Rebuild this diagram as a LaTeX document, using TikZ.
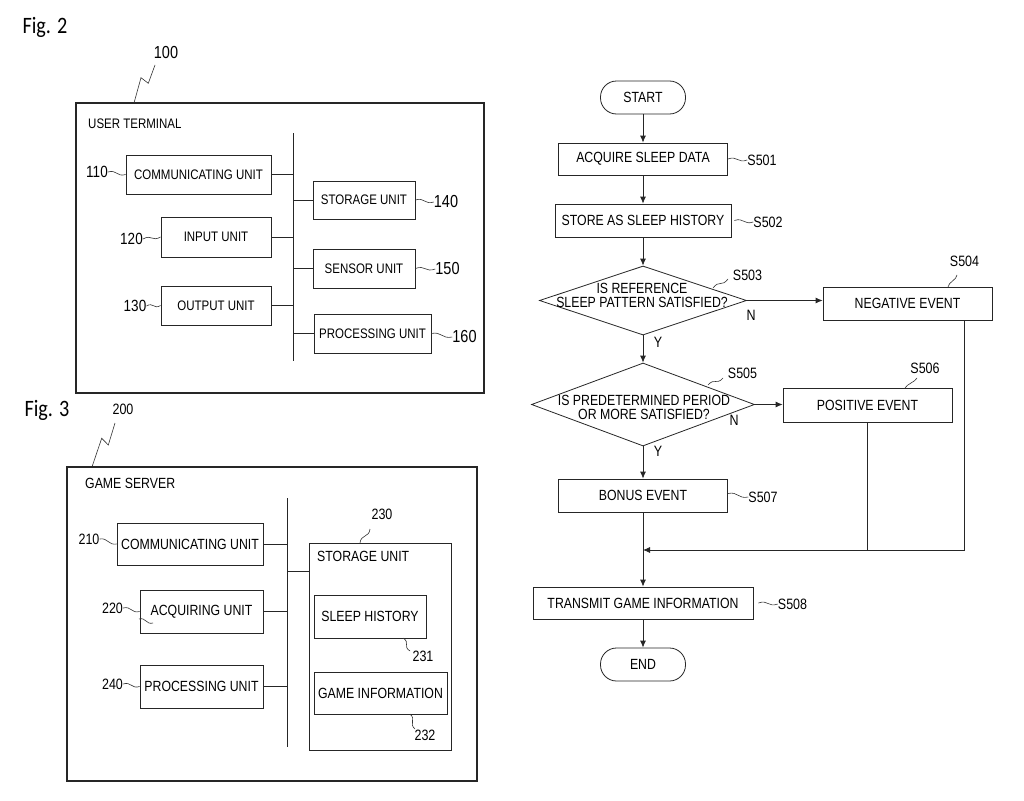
\documentclass[tikz,border=0pt]{standalone}
\usepackage{fontspec}
\setmainfont{Liberation Sans}[FakeStretch=0.833]
\newfontfamily\figfont{Carlito}[FakeStretch=0.86]
\usetikzlibrary{shapes.geometric,arrows.meta,calc}
\newcommand\fA{\fontsize{13.8}{15}\selectfont}
\newcommand\fB{\fontsize{14.76}{14}\selectfont}
\newcommand\wave[3]{\draw[lead] #1 .. controls ($#1!0.5!#2+(#3)$) and ($#1!0.5!#2-(#3)$) .. #2;}
\begin{document}
\begin{tikzpicture}[x=1pt,y=-1pt,
  ln/.style={draw=black!85, line width=0.8pt},
  blk/.style={ln, rectangle, inner sep=0pt, align=center},
  outer/.style={draw=black!85, line width=1.1pt, rectangle, inner sep=0pt},
  term/.style={ln, rectangle, rounded corners=16pt, inner sep=0pt, minimum width=85, minimum height=33, font=\fB},
  dia/.style={ln, diamond, inner sep=0pt},
  lead/.style={draw=black!80, line width=0.6pt},
  num/.style={inner sep=0pt, font=\fontsize{17.4}{18}\selectfont},
  nums/.style={inner sep=0pt, font=\fontsize{16.2}{17}\selectfont},
  numt/.style={inner sep=0pt, font=\fontsize{15}{16}\selectfont},
  yn/.style={inner sep=0pt, font=\fontsize{15}{16}\selectfont},
  figlab/.style={inner sep=0pt, font=\figfont\fontsize{23.5}{25}\selectfont},
  arr/.style={ln, -{Latex[length=7pt,width=6pt]}}
]
\fill[white] (0,0) rectangle (1024,800);
\useasboundingbox (0,0) rectangle (1024,800);

% ================= Fig. 2 =================
\node[figlab] (fig2) at (45,27) {Fig. 2};
\node[num] (n100) at (166,53) {100};
\node[outer, minimum width=408, minimum height=290] (ut) at (280,248) {};
\coordinate (z100a) at (155,65);
\coordinate (z100b) at (134,103);
\draw[lead] (z100a) -- ++(-6.7,18.3) -- ++(-7.3,-5.6) -- (z100b);
\node[anchor=west, inner sep=0pt, font=\fA] (utl) at (88,124) {USER TERMINAL};
\coordinate (bus2t) at (293,133);
\coordinate (bus2b) at (293,361);
\draw[ln] (bus2t) -- (bus2b);

\node[blk, font=\fA, minimum width=145, minimum height=39] (c110) at (198.5,174.5) {COMMUNICATING UNIT};
\node[blk, font=\fA, minimum width=110, minimum height=40] (c120) at (216,237) {INPUT UNIT};
\node[blk, font=\fA, minimum width=110, minimum height=39] (c130) at (216,305.5) {OUTPUT UNIT};
\node[blk, font=\fA, minimum width=102, minimum height=38] (c140) at (364,200) {STORAGE UNIT};
\node[blk, font=\fA, minimum width=102, minimum height=39] (c150) at (364,268.5) {SENSOR UNIT};
\node[blk, font=\fA, minimum width=117, minimum height=39] (c160) at (372.5,333.5) {PROCESSING UNIT};

\foreach \b in {c110,c120,c130}{\draw[ln] (\b.east) -- (\b.east -| bus2t);}
\foreach \b in {c140,c150,c160}{\draw[ln] (\b.west) -- (\b.west -| bus2t);}

\node[nums] (n110) at (97,172) {110};
\node[nums] (n120) at (131.5,239) {120};
\node[nums] (n130) at (135,306) {130};
\node[num] (n140) at (446,202) {140};
\node[num] (n150) at (447.5,269) {150};
\node[num] (n160) at (464.5,337) {160};
\wave{(n110.east)}{(c110.west)}{0,-4}
\wave{(n120.east)}{(c120.west)}{0,-4}
\wave{(n130.east)}{(c130.west)}{0,-4}
\wave{(c140.east)}{(n140.west)}{0,-4}
\wave{(c150.east)}{(n150.west)}{0,-4}
\wave{(c160.east)}{(n160.west)}{0,-4}

% ================= Fig. 3 =================
\node[figlab] (fig3) at (47,410) {Fig. 3};
\node[numt] (n200) at (123,409) {200};
\node[outer, minimum width=410, minimum height=314] (gs) at (272,624) {};
\coordinate (z200a) at (115,423);
\coordinate (z200b) at (92.3,466);
\draw[lead] (z200a) -- ++(-6.7,22) -- ++(-6.6,-6.7) -- (z200b);
\node[anchor=west, inner sep=0pt, font=\fB] (gsl) at (85,483) {GAME SERVER};
\coordinate (bus3t) at (287,498);
\coordinate (bus3b) at (287,747);
\draw[ln] (bus3t) -- (bus3b);

\node[blk, font=\fB, minimum width=146, minimum height=42] (d210) at (190,544) {COMMUNICATING UNIT};
\node[blk, font=\fB, minimum width=123, minimum height=43] (d220) at (201.5,611.5) {ACQUIRING UNIT};
\node[blk, font=\fB, minimum width=123, minimum height=43] (d240) at (201.5,686.5) {PROCESSING UNIT};
\node[blk, minimum width=142, minimum height=207] (d230) at (380,646.5) {};
\node[anchor=west, inner sep=0pt, font=\fB] (d230l) at (317,556) {STORAGE UNIT};
\node[blk, font=\fB, minimum width=112, minimum height=43] (d231) at (370,616.5) {SLEEP HISTORY};
\node[blk, font=\fB, minimum width=133, minimum height=42] (d232) at (380.5,693) {GAME INFORMATION};

\foreach \b in {d210,d220,d240}{\draw[ln] (\b.east) -- (\b.east -| bus3t);}
\coordinate (s230) at (309,571);
\draw[ln] (s230) -- (s230 -| bus3t);

\node[numt] (n210) at (89,539) {210};
\node[numt] (n220) at (112.5,608) {220};
\node[numt] (n240) at (112.5,684) {240};
\node[numt] (n230) at (382,514) {230};
\node[numt] (n231) at (423,656) {231};
\node[numt] (n232) at (425,735) {232};
\wave{(n210.east)}{(d210.west)}{0,-4}
\wave{(n220.east)}{(d220.west)}{0,-4}
\coordinate (z220a) at (139,619);
\coordinate (z220b) at (153,623);
\wave{(z220a)}{(z220b)}{0,-4}
\wave{(n240.east)}{(d240.west)}{0,-4}
\coordinate (z230) at (370,529);
\coordinate (z230b) at (360,543);
\wave{(z230)}{(z230b)}{4,2}
\coordinate (z231) at (403,638);
\coordinate (z231b) at (410,651);
\wave{(z231)}{(z231b)}{4,-2}
\coordinate (z232) at (410,714);
\coordinate (z232b) at (415,729);
\wave{(z232)}{(z232b)}{4,-2}

% ================= Flowchart =================
\node[term] (st) at (643,97.5) {START};
\node[blk, font=\fB, minimum width=169, minimum height=32] (s501) at (643,159) {ACQUIRE SLEEP DATA};
\node[blk, font=\fB, minimum width=176, minimum height=33] (s502) at (643,220.5) {STORE AS SLEEP HISTORY};
\node[dia, minimum width=207, minimum height=69] (d503) at (643,300.5) {};
\node[inner sep=0pt, align=center, font=\fB] (t503) at (642,295) {IS REFERENCE\\SLEEP PATTERN SATISFIED?};
\node[blk, font=\fB, minimum width=169, minimum height=33] (s504) at (907.5,303.5) {NEGATIVE EVENT};
\node[dia, minimum width=223, minimum height=83] (d505) at (643,404.5) {};
\node[inner sep=0pt, align=center, font=\fB] (t505) at (644,407.5) {IS PREDETERMINED PERIOD\\OR MORE SATISFIED?};
\node[blk, font=\fB, minimum width=169, minimum height=34] (s506) at (867.5,405) {POSITIVE EVENT};
\node[blk, font=\fB, minimum width=169, minimum height=33] (s507) at (643,495.5) {BONUS EVENT};
\node[blk, font=\fB, minimum width=220, minimum height=32] (s508) at (643,603) {TRANSMIT GAME INFORMATION};
\node[term] (en) at (643,664.5) {END};
\coordinate (m) at (643,550);

\draw[arr] (st.south) -- (s501.north);
\draw[arr] (s501.south) -- (s502.north);
\draw[arr] (s502.south) -- (d503.north);
\draw[arr] (d503.south) -- (d505.north);
\draw[arr] (d505.south) -- (s507.north);
\draw[arr] (s507.south) -- (s508.north);
\draw[arr] (s508.south) -- (en.north);
\draw[arr] (d503.east) -- (d503.east -| s504.west);
\draw[arr] (d505.east) -- (d505.east -| s506.west);
\draw[arr] ($(s504.south)+(56.5,0)$) |- (m);
\draw[ln] (s506.south) -- (s506.south |- m);

\node[yn] (yn503) at (751,315) {N};
\node[yn] (yy503) at (658,342) {Y};
\node[yn] (yn505) at (734,420) {N};
\node[yn] (yy505) at (658,451) {Y};

\node[numt] (n501) at (762,160) {S501};
\node[numt] (n502) at (768,222) {S502};
\node[numt] (n503) at (747.5,275) {S503};
\node[numt] (n504) at (964.5,261) {S504};
\node[numt] (n505) at (742.5,373) {S505};
\node[numt] (n506) at (925,368) {S506};
\node[numt] (n507) at (763,497) {S507};
\node[numt] (n508) at (792.5,604) {S508};
\wave{(s501.east)}{(n501.west)}{0,-4}
\wave{($(s502.east)+(3,0)$)}{(n502.west)}{0,-4}
\wave{($(s507.east)+(0,-2)$)}{(n507.west)}{0,-4}
\wave{($(s508.east)+(5,0)$)}{(n508.west)}{0,-4}
\coordinate (z503a) at (713,288);
\coordinate (z503b) at (728,279);
\wave{(z503a)}{(z503b)}{-1,-4}
\coordinate (z504a) at (957,275);
\coordinate (z504b) at (948,287);
\wave{(z504a)}{(z504b)}{4,-1}
\coordinate (z505a) at (708,385);
\coordinate (z505b) at (723,378);
\wave{(z505a)}{(z505b)}{-1,-4}
\coordinate (z506a) at (917,378);
\coordinate (z506b) at (905,388);
\wave{(z506a)}{(z506b)}{4,-1}
\end{tikzpicture}
\end{document}
